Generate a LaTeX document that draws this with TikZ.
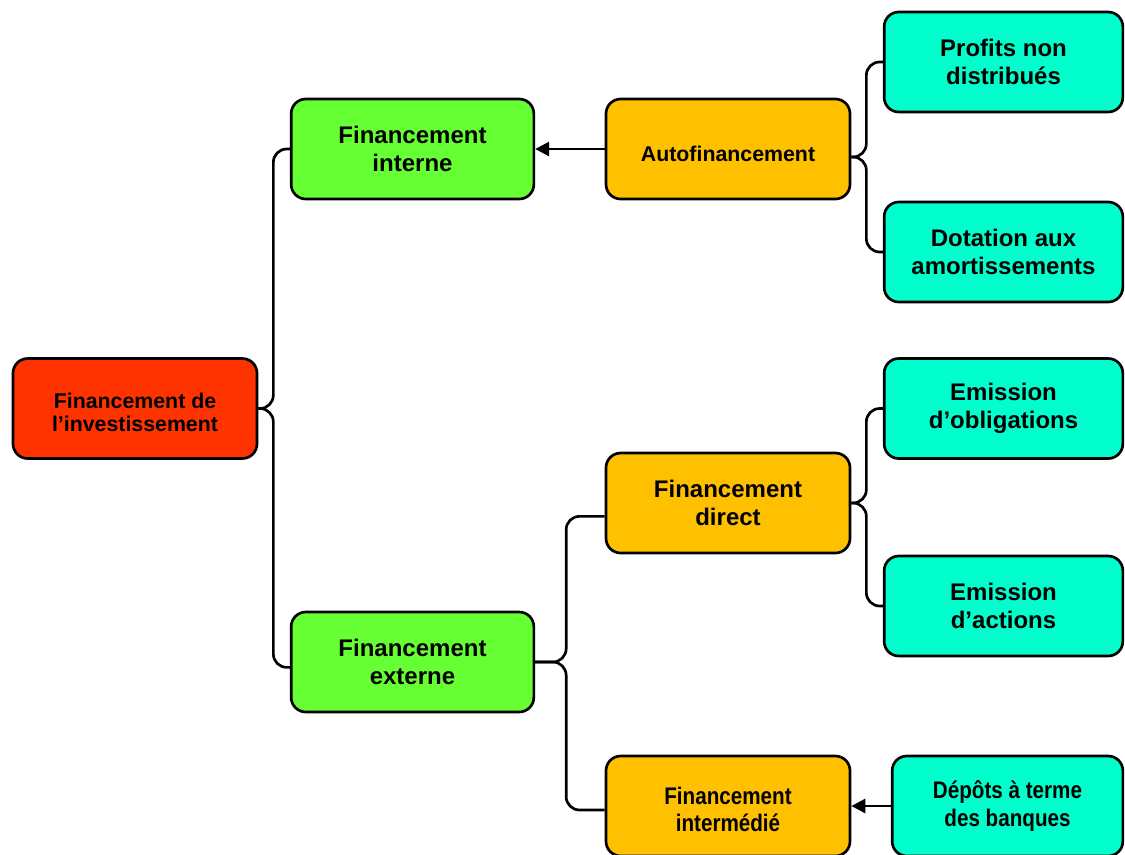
\documentclass[tikz,border=0pt]{standalone}
\usepackage{fontspec}
\setmainfont{Liberation Sans}
\newfontfamily\narrowsans{Liberation Sans}[FakeStretch=0.86]
\usetikzlibrary{arrows.meta}
\definecolor{cred}{HTML}{FF3300}
\definecolor{cgreen}{HTML}{66FF33}
\definecolor{corange}{HTML}{FFC000}
\definecolor{ccyan}{HTML}{00FFCC}
\begin{document}
\begin{tikzpicture}[x=0.75pt,y=-0.75pt,
  box/.style={draw=black,line width=2pt,rounded corners=11pt,
    minimum height=75pt,align=center,inner sep=2pt,
    font=\bfseries\fontsize{18}{20.5}\selectfont},
  smallbox/.style={box,font=\bfseries\fontsize{16}{18}\selectfont},
  rootbox/.style={smallbox,fill=cred,minimum width=183pt},
  lvlone/.style={box,fill=cgreen,minimum width=182pt},
  lvltwo/.style={box,fill=corange,minimum width=183pt},
  leaf/.style={box,fill=ccyan,minimum width=179pt},
  conn/.style={draw=black,line width=2pt,rounded corners=10pt},
  arr/.style={draw=black,line width=2pt,-{Triangle[length=10.5pt,width=10.5pt]}}
]
\useasboundingbox (0,0) rectangle (1125,854);

\node[rootbox] (root) at (135,408.5) {\raisebox{-5pt}[\height][\depth]{\begin{tabular}{@{}c@{}}Financement de\\[-1pt]l’investissement\end{tabular}}};

\node[lvlone] (interne) at (412.5,149) {Financement\\interne};
\node[lvlone] (externe) at (412.5,662) {Financement\\externe};

\node[lvltwo,font=\bfseries\fontsize{16}{18}\selectfont] (auto) at (728,149) {\raisebox{-3.5pt}[\height][\depth]{Autofinancement}};
\node[lvltwo] (direct) at (728,503) {Financement\\direct};
\node[lvltwo,font=\narrowsans\bfseries\fontsize{18}{20.5}\selectfont] (interm) at (728,806) {\raisebox{-5pt}[\height][\depth]{\begin{tabular}{@{}c@{}}Financement\\[-0.5pt]intermédié\end{tabular}}};

\node[leaf] (profits) at (1003.5,62) {Profits non\\distribués};
\node[leaf] (dotation) at (1003.5,252) {Dotation aux\\amortissements};
\node[leaf] (oblig) at (1003.5,408.5) {Emission\\d’obligations};
\node[leaf] (actions) at (1003.5,606) {Emission\\d’actions};
\node[leaf,minimum width=173pt,font=\narrowsans\bfseries\fontsize{18}{20.5}\selectfont] (depots) at (1007.5,806) {Dépôts à terme\\des banques};

% root brackets
\draw[conn] (root.east) -- ++(15,0) |- (interne.west);
\draw[conn] (root.east) -- ++(15,0) |- ([yshift=-4pt]externe.west);

% autofinancement
\draw[arr] (auto.west) -- (interne.east);
\draw[conn] ([yshift=-6pt]auto.east) -- ++(15,0) |- (profits.west);
\draw[conn] ([yshift=-6pt]auto.east) -- ++(15,0) |- (dotation.west);

% externe
\draw[conn] (externe.east) -- ++(31,0) |- ([yshift=-10pt]direct.west);
\draw[conn] (externe.east) -- ++(31,0) |- ([yshift=-3pt]interm.west);

% direct
\draw[conn] (direct.east) -- ++(15,0) |- (oblig.west);
\draw[conn] (direct.east) -- ++(15,0) |- (actions.west);

% depots
\draw[arr] (depots.west) -- (interm.east);
\end{tikzpicture}
\end{document}
